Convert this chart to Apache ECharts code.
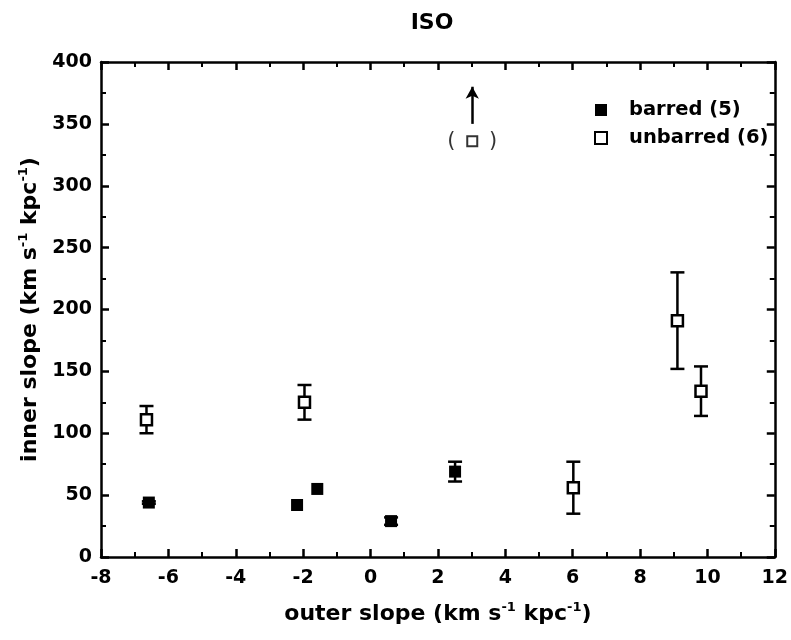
<!DOCTYPE html>
<html>
<head>
<meta charset="utf-8">
<title>ISO</title>
<script src="https://cdn.jsdelivr.net/npm/echarts@6/dist/echarts.min.js"></script>
<style>
  html, body { margin: 0; padding: 0; background: #fff; }
  #chart { width: 791px; height: 640px; }
</style>
</head>
<body>
<div id="chart"></div>
<script>
// values
const barredX = [-6.58, -2.18, -1.58, 0.61, 2.51];
const barredY = [44, 42, 55, 29, 69];
const barredErr = [1, 0, 0, 3, 8];

const unbarredX = [-6.65, -1.96, 6.02, 9.11, 9.81];
const unbarredY = [111, 125, 56, 191, 134];
const unbarredErr = [11, 14, 21, 39, 20];

// the sixth unbarred galaxy lies off the top of the plot
const offscaleX = [3.02];
const offscaleY = [336];
const offscaleArrow = [350, 380];

const xTicks = [-8, -6, -4, -2, 0, 2, 4, 6, 8, 10, 12];
const yTicks = [0, 50, 100, 150, 200, 250, 300, 350, 400];

const FONT = "DejaVu Sans";

const chart = echarts.init(document.getElementById("chart"));

function toPoints(xs, ys, errs) {
  return xs.map((x, i) => [x, ys[i], errs ? errs[i] : 0]);
}

function renderErrorBar(params, api) {
  const x = api.value(0);
  const y = api.value(1);
  const e = api.value(2);
  if (!e) return null;
  const top = api.coord([x, y + e]);
  const bot = api.coord([x, y - e]);
  const hw = 7;
  const style = { stroke: "#000", lineWidth: 2.5 };
  return {
    type: "group",
    children: [
      { type: "line", shape: { x1: top[0], y1: top[1], x2: bot[0], y2: bot[1] }, style },
      { type: "line", shape: { x1: top[0] - hw, y1: top[1], x2: top[0] + hw, y2: top[1] }, style },
      { type: "line", shape: { x1: bot[0] - hw, y1: bot[1], x2: bot[0] + hw, y2: bot[1] }, style },
    ],
  };
}

const tickStyle = {
  axisLine: { show: true, onZero: false, lineStyle: { color: "#000", width: 2.5 } },
  axisTick: { show: true, inside: true, length: 8, lineStyle: { color: "#000", width: 2.5 } },
  minorTick: { show: true, splitNumber: 2, length: 5, lineStyle: { color: "#000", width: 2 } },
  splitLine: { show: false },
  minorSplitLine: { show: false },
};

const labelStyle = { color: "#000", fontFamily: FONT, fontWeight: "bold", fontSize: 19 };

const nameRich = {
  b: { fontFamily: FONT, fontWeight: "bold", fontSize: 22, color: "#000", lineHeight: 26 },
  sup: { fontFamily: FONT, fontWeight: "bold", fontSize: 13, color: "#000", lineHeight: 13, verticalAlign: "top" },
};

const option = {
  animation: false,
  backgroundColor: "#fff",
  title: {
    text: "ISO",
    left: 427,
    top: 7,
    textAlign: "center",
    textStyle: { fontFamily: FONT, fontWeight: "bold", fontSize: 22, color: "#000" },
  },
  legend: {
    orient: "vertical",
    left: 589,
    top: 94,
    itemWidth: 12,
    itemHeight: 12,
    itemGap: 6,
    data: ["barred (5)", "unbarred (6)"],
    textStyle: { fontFamily: FONT, fontWeight: "bold", fontSize: 19.5, color: "#000", padding: [0, 0, 0, 17], lineHeight: 22 },
  },
  grid: { left: 101, right: 13, top: 62, bottom: 83 },
  xAxis: [
    {
      type: "value", position: "bottom", min: -8, max: 12, interval: 2,
      ...tickStyle,
      axisLabel: { ...labelStyle, margin: 12, formatter: (v) => xTicks.includes(v) ? String(v) : "" },
      name: "{b|outer slope (km s}{sup|-1}{b| kpc}{sup|-1}{b|)}",
      nameLocation: "middle",
      nameGap: 44,
      nameTextStyle: { rich: nameRich },
    },
    {
      type: "value", position: "top", min: -8, max: 12, interval: 2,
      ...tickStyle,
      axisLabel: { show: false },
    },
  ],
  yAxis: [
    {
      type: "value", position: "left", min: 0, max: 400, interval: 50,
      ...tickStyle,
      axisLabel: { ...labelStyle, margin: 9, formatter: (v) => yTicks.includes(v) ? String(v) : "" },
      name: "{b|inner slope (km s}{sup|-1}{b| kpc}{sup|-1}{b|)}",
      nameLocation: "middle",
      nameGap: 56,
      nameTextStyle: { rich: nameRich },
    },
    {
      type: "value", position: "right", min: 0, max: 400, interval: 50,
      ...tickStyle,
      axisLabel: { show: false },
    },
  ],
  series: [
    {
      name: "barred err",
      type: "custom",
      renderItem: renderErrorBar,
      data: toPoints(barredX, barredY, barredErr),
      encode: { x: 0, y: 1 },
      z: 2,
    },
    {
      name: "unbarred err",
      type: "custom",
      renderItem: renderErrorBar,
      data: toPoints(unbarredX, unbarredY, unbarredErr),
      encode: { x: 0, y: 1 },
      z: 2,
    },
    {
      name: "barred (5)",
      type: "scatter",
      symbol: "rect",
      symbolSize: 12,
      itemStyle: { color: "#000", opacity: 1 },
      data: toPoints(barredX, barredY),
      z: 3,
    },
    {
      name: "unbarred (6)",
      type: "scatter",
      symbol: "rect",
      symbolSize: 11,
      itemStyle: { color: "#fff", borderColor: "#000", borderWidth: 2.5, opacity: 1 },
      data: toPoints(unbarredX, unbarredY),
      z: 3,
    },
    {
      name: "offscale",
      type: "scatter",
      symbol: "rect",
      symbolSize: 10,
      itemStyle: { color: "#fff", borderColor: "#000", borderWidth: 2 },
      label: {
        show: true,
        position: "inside",
        formatter: "(     )",
        fontFamily: FONT,
        fontSize: 21,
        color: "#000",
      },
      data: toPoints(offscaleX, offscaleY),
      markLine: {
        silent: true,
        symbol: ["none", "arrow"],
        symbolSize: [10, 12],
        label: { show: false },
        lineStyle: { color: "#000", width: 2.5, type: "solid" },
        data: [[{ coord: [offscaleX[0], offscaleArrow[0]] }, { coord: [offscaleX[0], offscaleArrow[1]] }]],
      },
      z: 3,
    },
  ],
};

chart.setOption(option);
</script>
</body>
</html>
